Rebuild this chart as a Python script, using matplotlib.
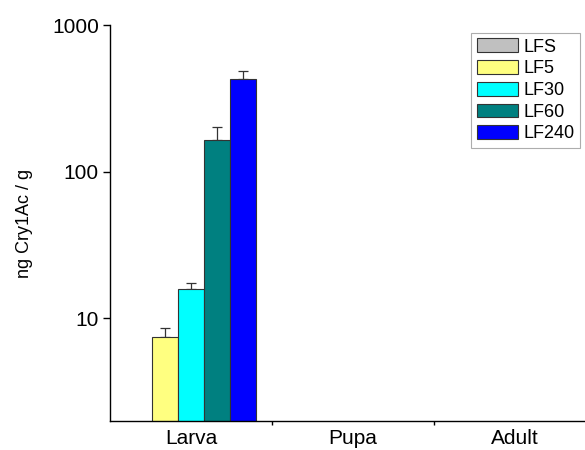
import numpy as np
import matplotlib
matplotlib.use("Agg")
import matplotlib.pyplot as plt
from matplotlib.ticker import FixedLocator, NullLocator, FixedFormatter

plt.rcParams["font.family"] = ["Liberation Sans", "DejaVu Sans"]

stages = ["Larva", "Pupa", "Adult"]
series = ["LFS", "LF5", "LF30", "LF60", "LF240"]
colors = ["#c0c0c0", "#ffff80", "#00ffff", "#008080", "#0000ff"]

# mean concentration (ng/g) per series, one value per stage; nan = not shown
lfs = [np.nan, np.nan, np.nan]
lf5 = [7.5, np.nan, np.nan]
lf30 = [15.9, np.nan, np.nan]
lf60 = [165, np.nan, np.nan]
lf240 = [427, np.nan, np.nan]

# upper error (ng/g)
lfs_err = [np.nan, np.nan, np.nan]
lf5_err = [1.1, np.nan, np.nan]
lf30_err = [1.5, np.nan, np.nan]
lf60_err = [38, np.nan, np.nan]
lf240_err = [57, np.nan, np.nan]

values = [lfs, lf5, lf30, lf60, lf240]
errors = [lfs_err, lf5_err, lf30_err, lf60_err, lf240_err]

fig = plt.figure(figsize=(5.85, 4.5), dpi=100)
ax = fig.add_axes([0.188, 0.0644, 0.831, 0.88])

x = np.arange(len(stages))
w = 0.16
for i, (name, vals, errs, c) in enumerate(zip(series, values, errors, colors)):
    pos = x + (i - 2) * w
    vals = np.array(vals, dtype=float)
    errs = np.array(errs, dtype=float)
    ax.bar(pos, vals, width=w, bottom=0,
           color=c, edgecolor="#333333", linewidth=0.8, label=name, zorder=2)
    ax.errorbar(pos, vals, yerr=[np.zeros_like(errs), errs], fmt="none",
                ecolor="#333333", elinewidth=0.9, capsize=3.5, capthick=0.9, zorder=1)

ax.set_yscale("log")
ax.set_ylim(2, 1000)
ax.set_xlim(-0.5, 2.5)

ax.yaxis.set_major_locator(FixedLocator([10, 100, 1000]))
ax.yaxis.set_major_formatter(FixedFormatter(["10", "100", "1000"]))
ax.yaxis.set_minor_locator(NullLocator())
ax.tick_params(axis="y", which="major", length=5, width=1.0, labelsize=15, pad=3)

ax.set_xticks(x)
ax.set_xticklabels(stages)
ax.set_xticks([0.5, 1.5], minor=True)
ax.tick_params(axis="x", which="major", length=0, labelsize=15, pad=6)
ax.tick_params(axis="x", which="minor", length=3, width=1.0)

for s in ["top", "right"]:
    ax.spines[s].set_visible(False)
for s in ["left", "bottom"]:
    ax.spines[s].set_linewidth(1.0)

ax.set_ylabel("ng Cry1Ac / g", fontsize=13, labelpad=14)

leg = ax.legend(loc="upper right", bbox_to_anchor=(580 / 585, 1 - 33 / 450),
                bbox_transform=fig.transFigure, fontsize=13, frameon=True,
                fancybox=False, edgecolor="#999999", handlelength=2.3,
                handleheight=0.8, labelspacing=0.25, handletextpad=0.3,
                borderpad=0.3, borderaxespad=0)
leg.get_frame().set_linewidth(0.8)

fig.savefig("out.png", dpi=100)
